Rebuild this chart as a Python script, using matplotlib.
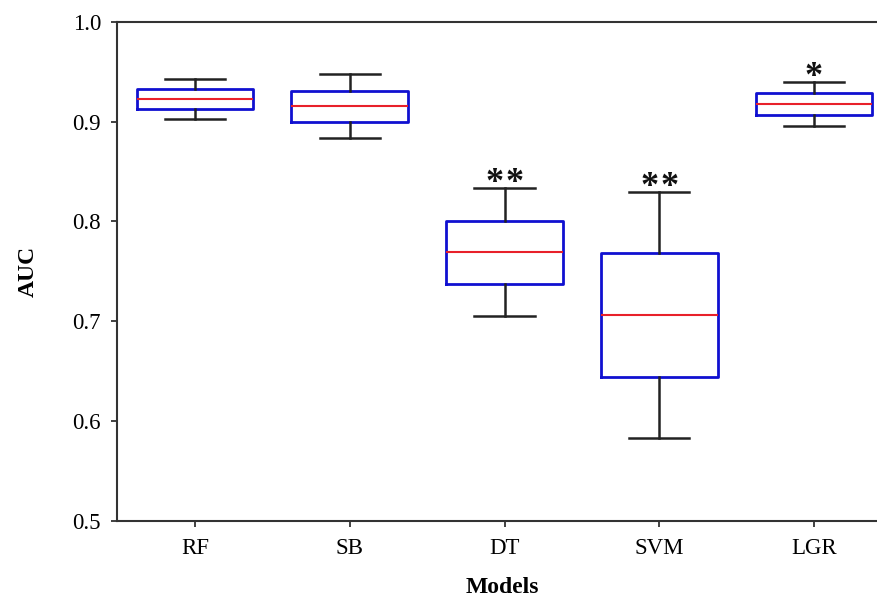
import matplotlib
matplotlib.use("Agg")
import matplotlib.pyplot as plt

models = ["RF", "SB", "DT", "SVM", "LGR"]
whislo = [0.9025, 0.8834, 0.7052, 0.5825, 0.8955]
q1 = [0.9125, 0.8995, 0.7370, 0.6443, 0.9065]
med = [0.9226, 0.9159, 0.7694, 0.7062, 0.9178]
q3 = [0.9326, 0.9312, 0.8009, 0.7681, 0.9292]
whishi = [0.9426, 0.9479, 0.8334, 0.8293, 0.9396]
signif = ["", "", "**", "**", "*"]
yticks = [0.5, 0.6, 0.7, 0.8, 0.9, 1.0]

plt.rcParams["font.family"] = ["Liberation Serif", "DejaVu Serif"]

fig = plt.figure(figsize=(8.78, 5.98), dpi=100)
ax = fig.add_axes([0.1333, 0.1294, 0.8667 + 0.01, 0.8338])

stats = []
for i, m in enumerate(models):
    stats.append(dict(label=m, whislo=whislo[i], q1=q1[i], med=med[i],
                      q3=q3[i], whishi=whishi[i], fliers=[]))

positions = list(range(1, len(models) + 1))
ax.bxp(stats, positions=positions, widths=0.755, capwidths=0.39,
       showfliers=False, patch_artist=False,
       boxprops=dict(color="#1010d0", linewidth=2.0),
       medianprops=dict(color="#e8202a", linewidth=1.5),
       whiskerprops=dict(color="#222222", linewidth=1.8),
       capprops=dict(color="#222222", linewidth=1.8))

star_gap = 7.2  # half the distance between adjacent star centres, in points
for i, s in enumerate(signif):
    n = len(s)
    for k in range(n):
        dx = (k - (n - 1) / 2) * 2 * star_gap
        ax.annotate("*", xy=(positions[i], whishi[i]), xytext=(dx, -3.0),
                    textcoords="offset points", ha="center", va="baseline",
                    fontsize=26, fontweight="bold", color="#111111")

ax.set_xlim(0.496, 5.47)
ax.set_ylim(0.5, 1.0)
ax.set_yticks(yticks)
ax.set_yticklabels([f"{v:.1f}" for v in yticks])
ax.set_xticks(positions)
ax.set_xticklabels(models)

ax.spines["right"].set_visible(False)
for sp in ["left", "bottom", "top"]:
    ax.spines[sp].set_linewidth(1.5)
    ax.spines[sp].set_color("#333333")

ax.tick_params(axis="both", direction="out", length=4.5, width=1.3,
               color="#333333", labelsize=16.5)
ax.tick_params(axis="y", pad=7)
ax.tick_params(axis="x", pad=8)

ax.set_ylabel("AUC", fontsize=17, fontweight="bold", labelpad=24)
ax.set_xlabel("Models", fontsize=17, fontweight="bold", labelpad=13)

fig.savefig("out.png", dpi=100)
